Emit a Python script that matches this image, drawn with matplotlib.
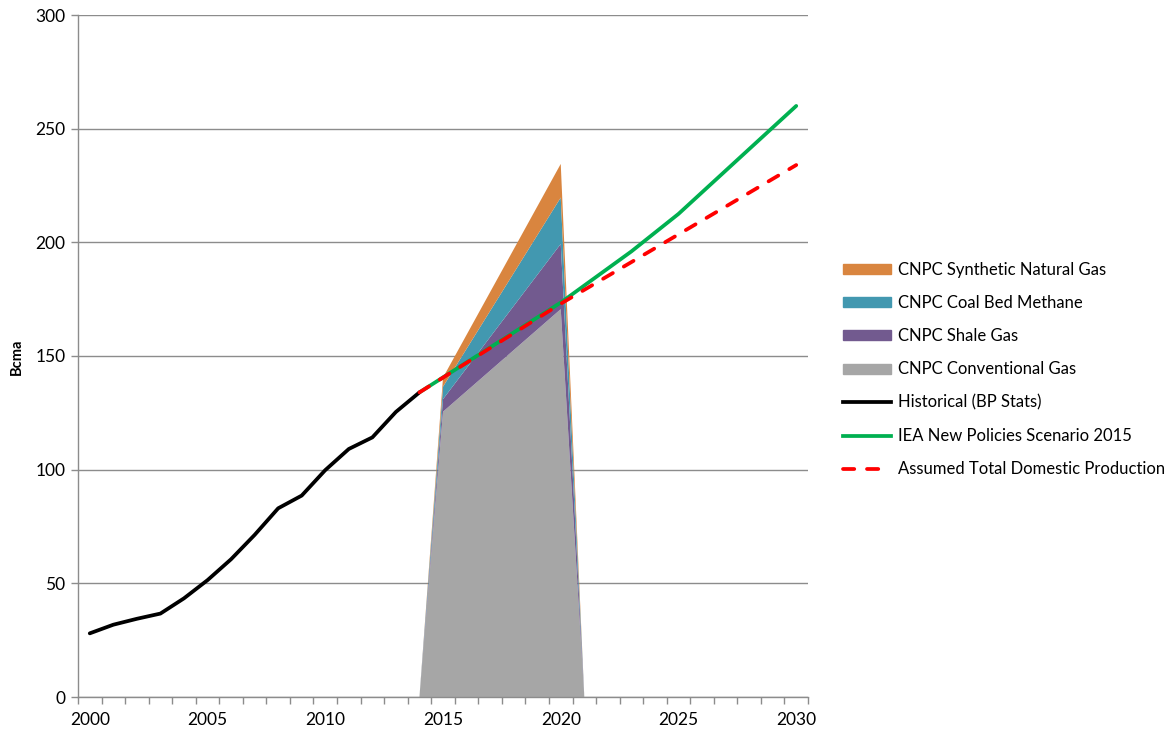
"""plot.py - China gas production outlook"""
import matplotlib
matplotlib.use("Agg")
import matplotlib.pyplot as plt
from matplotlib.patches import Patch
from matplotlib.lines import Line2D

plt.rcParams["font.family"] = ["Lato", "DejaVu Sans"]

# historical production (BP Stats)
hist_years = [2000, 2001, 2002, 2003, 2004, 2005, 2006, 2007, 2008, 2009,
              2010, 2011, 2012, 2013, 2014]
hist_vals = [28.0, 31.8, 34.4, 36.7, 43.4, 51.4, 60.6, 71.3, 83.0, 88.6,
             99.8, 109.1, 114.2, 125.4, 134.0]

# IEA New Policies Scenario 2015
iea_years = [2014, 2020, 2023, 2025, 2030]
iea_vals = [134.0, 173.5, 196.0, 212.5, 260.0]

# assumed total domestic production
dom_years = [2014, 2020, 2030]
dom_vals = [134.0, 173.0, 234.0]

# CNPC stacked areas
cnpc_years = [2014, 2015, 2020, 2021]
conventional = [0, 125.5, 170.6, 0]
shale = [0, 5.5, 28.7, 0]
cbm = [0, 5.5, 20.4, 0]
sng = [0, 4.0, 14.8, 0]

C_SNG = "#D9853F"
C_CBM = "#4298B0"
C_SHALE = "#725A8F"
C_CONV = "#A6A6A6"
C_GREEN = "#00B050"
C_RED = "#FF0000"
AX_GREY = "#8C8C8C"
LW = 2.7
DASH = (3.0, 3.4)

fig = plt.figure(figsize=(11.71, 7.34), dpi=100)
ax = fig.add_axes([78 / 1171, 1 - 697 / 734, 730 / 1171, 682 / 734])

ax.stackplot(cnpc_years, conventional, shale, cbm, sng,
             colors=[C_CONV, C_SHALE, C_CBM, C_SNG], linewidth=0, zorder=2)

ax.plot(hist_years, hist_vals, color="black", linewidth=LW,
        solid_capstyle="round", zorder=4)
ax.plot(iea_years, iea_vals, color=C_GREEN, linewidth=LW,
        solid_capstyle="round", zorder=3)
ax.plot(dom_years, dom_vals, color=C_RED, linewidth=LW,
        dashes=DASH, dash_capstyle="round", zorder=5)

ax.set_xlim(1999.5, 2030.5)
ax.set_ylim(0, 300)
ax.set_yticks(range(0, 301, 50))
ax.set_xticks(range(2000, 2031, 5))
ax.set_xticks([y + 0.5 for y in range(1999, 2031)], minor=True)
ax.tick_params(axis="x", which="major", length=0, pad=11, labelsize=12.5)
ax.tick_params(axis="x", which="minor", length=5, color=AX_GREY, width=1)
ax.tick_params(axis="y", length=5, color=AX_GREY, width=1, pad=4,
               labelsize=12.5)

ax.grid(axis="y", color=AX_GREY, linewidth=1)
ax.set_axisbelow(True)
for side in ("top", "right"):
    ax.spines[side].set_visible(False)
for side in ("left", "bottom"):
    ax.spines[side].set_color(AX_GREY)
    ax.spines[side].set_linewidth(1)
    ax.spines[side].set_zorder(6)

fig.text(17 / 1171, 1 - 357 / 734, "Bcma", rotation=90, fontsize=10.5,
         fontweight="bold", ha="center", va="center")

handles = [
    Patch(color=C_SNG, label="CNPC Synthetic Natural Gas"),
    Patch(color=C_CBM, label="CNPC Coal Bed Methane"),
    Patch(color=C_SHALE, label="CNPC Shale Gas"),
    Patch(color=C_CONV, label="CNPC Conventional Gas"),
    Line2D([], [], color="black", linewidth=LW, label="Historical (BP Stats)"),
    Line2D([], [], color=C_GREEN, linewidth=LW,
           label="IEA New Policies Scenario 2015"),
    Line2D([], [], color=C_RED, linewidth=LW, dashes=DASH,
           dash_capstyle="round", label="Assumed Total Domestic Production"),
]
fig.legend(handles=handles, loc="upper left",
           bbox_to_anchor=(843 / 1171, 1 - 262 / 734), frameon=False,
           fontsize=12, handlelength=2.9, handleheight=0.55,
           handletextpad=0.4, labelspacing=1.03, borderpad=0,
           borderaxespad=0)

fig.savefig("out.png", dpi=100)
